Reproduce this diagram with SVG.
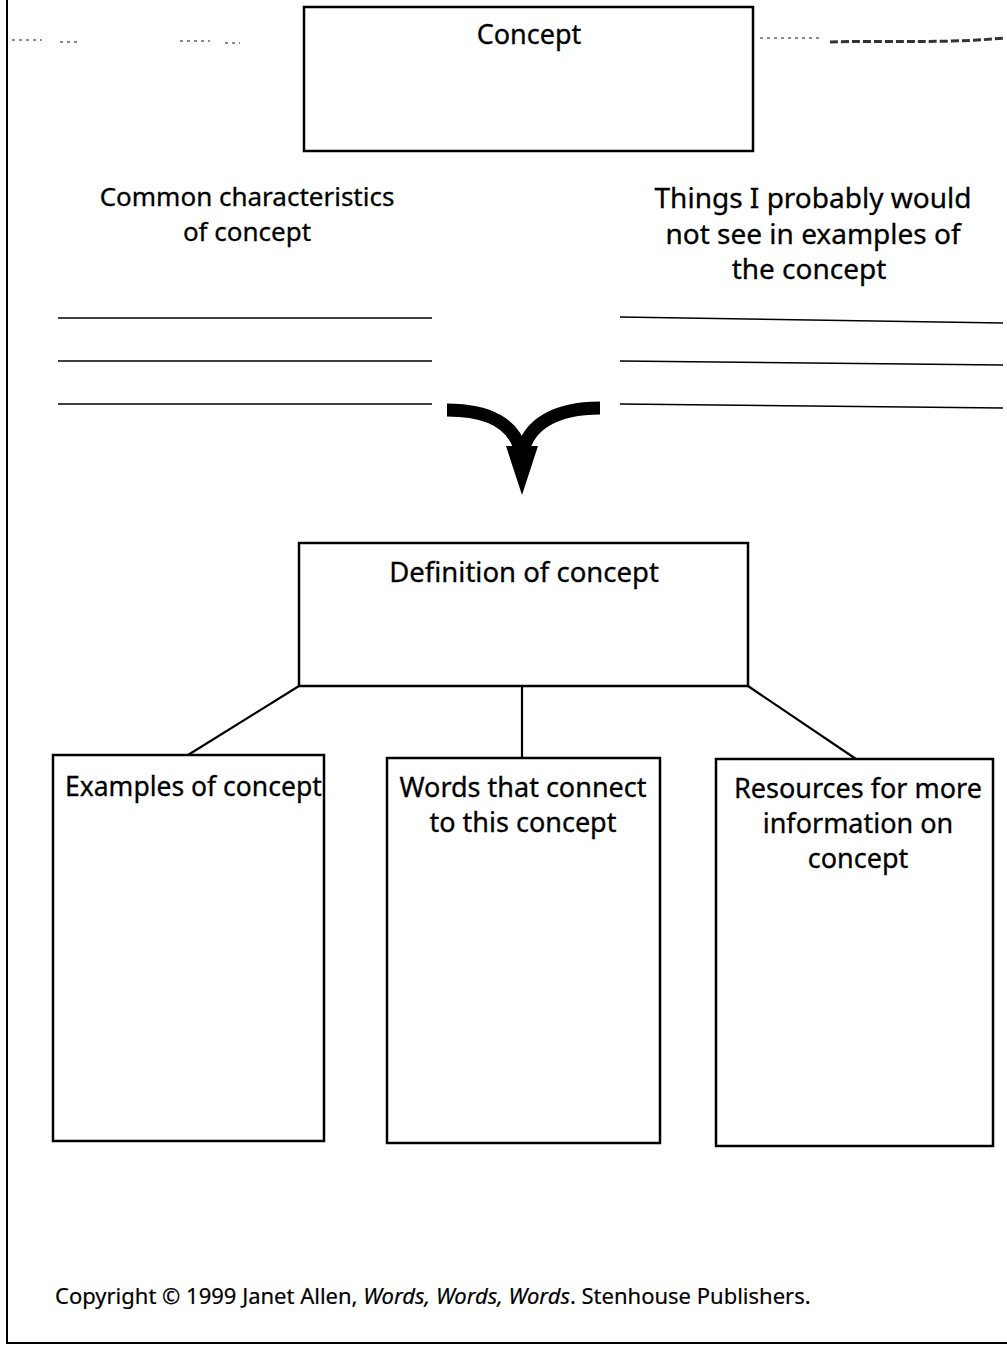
<svg xmlns="http://www.w3.org/2000/svg" width="1007" height="1347" viewBox="0 0 1007 1347">
<style>
.box{fill:#fff;stroke:#000;stroke-width:2.5}
.t{font-family:"Noto Sans","Open Sans",sans-serif;font-size:27px;fill:#000;stroke:#000;stroke-width:0.3;text-anchor:middle}
.rule{stroke:#000;stroke-width:1.5;fill:none}
.conn{stroke:#000;stroke-width:2.2;fill:none}
</style>
<rect width="1007" height="1347" fill="#fff"/>
<g id="frame">
<path d="M7,0 V1343 H1007" fill="none" stroke="#000" stroke-width="2"/>
</g>
<g id="scan-noise" stroke="#666" stroke-width="1.5" fill="none">
<path d="M12,40 h30 M60,42 h20 M180,41 h30 M225,43 h15 M310,40 h40 M410,42 h15 M500,41 h40 M560,42 h40 M680,43 h20 M760,38 h60" stroke-dasharray="3 4"/>
<path d="M830,42 C880,40 940,44 1005,38" stroke="#333" stroke-width="3" stroke-dasharray="8 3"/>
</g>
<g id="concept">
<rect class="box" x="304" y="7" width="449" height="144"/>
<text class="t" x="529" y="44">Concept</text>
</g>
<g id="common">
<text class="t" x="247" y="206" style="font-size:26px">Common characteristics</text>
<text class="t" x="247" y="241" style="font-size:26px">of concept</text>
<path class="rule" d="M58,318 H432 M58,361 H432 M58,404 H432"/>
</g>
<g id="notsee">
<text class="t" x="813" y="208" style="font-size:28px">Things I probably would</text>
<text class="t" x="813" y="244" style="font-size:28px">not see in examples of</text>
<text class="t" x="809" y="279" style="font-size:28px">the concept</text>
<path class="rule" d="M620,317 L1003,323 M620,361 L1003,365 M620,404 L1003,408"/>
</g>
<g id="connectors">
<path d="M447,410 C490,410 515,425 521,452 M600,408 C555,408 528,425 523,452" stroke="#000" stroke-width="13" fill="none"/>
<polygon points="506,446 538,446 522,495" fill="#000"/>
<path class="conn" d="M299,686 L188,755 M522,686 V758 M748,686 L856,759"/>
</g>
<g id="definition">
<rect class="box" x="299" y="543" width="449" height="143"/>
<text class="t" x="524" y="582" style="font-size:27.5px">Definition of concept</text>
</g>
<g id="examples">
<rect class="box" x="53" y="755" width="271" height="386"/>
<text class="t" x="65" y="796" style="text-anchor:start;font-size:26.5px">Examples of concept</text>
</g>
<g id="words">
<rect class="box" x="387" y="758" width="273" height="385"/>
<text class="t" x="523" y="797">Words that connect</text>
<text class="t" x="523" y="832">to this concept</text>
</g>
<g id="resources">
<rect class="box" x="716" y="759" width="277" height="387"/>
<text class="t" x="858" y="798">Resources for more</text>
<text class="t" x="858" y="833">information on</text>
<text class="t" x="858" y="868">concept</text>
</g>
<g id="copyright">
<text x="55" y="1304" style="font-family:'Noto Sans','Open Sans',sans-serif;font-size:22px;stroke:#000;stroke-width:0.2">Copyright © 1999 Janet Allen, <tspan font-style="italic">Words, Words, Words</tspan>. Stenhouse Publishers.</text>
</g>
</svg>
